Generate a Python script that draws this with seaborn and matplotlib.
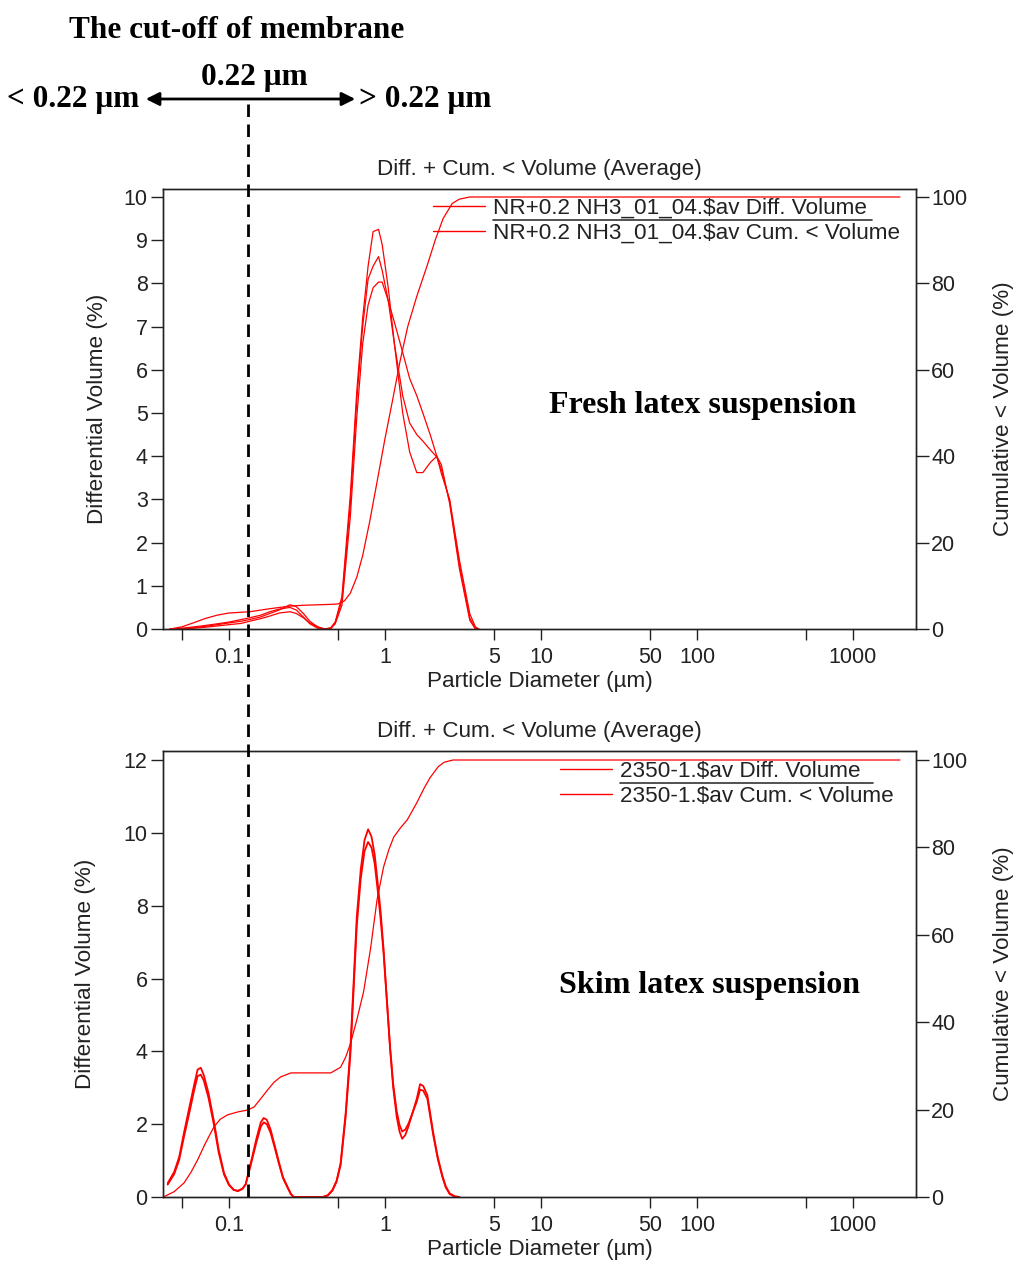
import matplotlib
matplotlib.use('Agg')
import matplotlib.pyplot as plt
import seaborn as sns
import numpy as np
from matplotlib.lines import Line2D
from matplotlib.patches import FancyArrowPatch

sns.set_style('ticks')
plt.rcParams['font.family'] = ['Liberation Sans', 'DejaVu Sans']

W, H = 1021, 1264

# ---- fresh latex (top panel) ----
top_d = [0.042, 0.05, 0.06, 0.07, 0.084, 0.1, 0.12, 0.136, 0.16, 0.183, 0.21, 0.246, 0.27,
         0.30, 0.33, 0.37, 0.41, 0.45, 0.48, 0.53, 0.60, 0.66, 0.72, 0.78, 0.84, 0.91, 0.96,
         1.05, 1.15, 1.30, 1.44, 1.60, 1.75, 1.95, 2.15, 2.3, 2.6, 3.0, 3.5, 3.8, 4.0]
top_diff_a = [0, 0.02, 0.05, 0.08, 0.12, 0.16, 0.22, 0.26, 0.32, 0.40, 0.46, 0.50, 0.44,
              0.28, 0.12, 0.02, 0.0, 0.02, 0.16, 0.75, 3.1, 5.5, 7.2, 8.4, 9.2, 9.25, 8.9,
              7.9, 6.6, 5.0, 4.1, 3.62, 3.62, 3.85, 4.0, 3.8, 2.9, 1.4, 0.2, 0.0, 0.0]
top_diff_b = [0, 0.0, 0.03, 0.06, 0.10, 0.14, 0.18, 0.22, 0.28, 0.36, 0.44, 0.56, 0.52,
              0.36, 0.18, 0.05, 0.0, 0.03, 0.15, 0.65, 2.9, 5.3, 7.0, 8.1, 8.4, 8.62, 8.3,
              7.6, 6.6, 5.4, 4.77, 4.5, 4.35, 4.15, 3.98, 3.7, 2.95, 1.5, 0.25, 0.02, 0.0]
top_diff_c = [0, 0.0, 0.02, 0.04, 0.07, 0.10, 0.13, 0.18, 0.24, 0.30, 0.37, 0.40, 0.36,
              0.26, 0.14, 0.05, 0.0, 0.01, 0.12, 0.55, 2.6, 4.9, 6.6, 7.5, 7.9, 8.03, 8.03,
              7.6, 7.1, 6.4, 5.8, 5.4, 5.0, 4.5, 4.0, 3.6, 3.0, 1.6, 0.35, 0.05, 0.0]
top_cum_d = [0.042, 0.05, 0.06, 0.07, 0.084, 0.1, 0.136, 0.183, 0.246, 0.30, 0.37, 0.45, 0.50,
             0.55, 0.60, 0.66, 0.72, 0.80, 0.90, 1.0, 1.12, 1.25, 1.40, 1.6, 1.86, 2.1, 2.36,
             2.7, 3.0, 3.5, 2000]
top_cum = [0, 0.5, 1.5, 2.4, 3.2, 3.7, 4.0, 4.7, 5.3, 5.5, 5.6, 5.7, 5.8,
           6.5, 8.3, 12, 17, 25, 35, 44, 53, 62, 70, 77, 84, 90, 95,
           98.5, 99.5, 100, 100]

# ---- skim latex (bottom panel) ----
bot_d = [0.0405, 0.0446, 0.048, 0.0515, 0.056, 0.060, 0.063, 0.066, 0.069, 0.074, 0.080,
         0.086, 0.093, 0.100, 0.107, 0.114, 0.122, 0.128, 0.138, 0.150, 0.160, 0.167, 0.175,
         0.185, 0.197, 0.208, 0.222, 0.238, 0.25, 0.26, 0.40, 0.43, 0.46, 0.49, 0.52, 0.56,
         0.60, 0.63, 0.66, 0.70, 0.74, 0.78, 0.82, 0.86, 0.90, 0.94, 0.98, 1.03, 1.08, 1.13,
         1.19, 1.24, 1.29, 1.35, 1.41, 1.50, 1.60, 1.68, 1.76, 1.87, 1.95, 2.04, 2.18, 2.33,
         2.45, 2.6, 2.8, 3.0]
bot_diff_hi = [0.38, 0.69, 1.1, 1.76, 2.5, 3.1, 3.5, 3.55, 3.35, 2.85, 2.1,
               1.3, 0.66, 0.35, 0.2, 0.16, 0.22, 0.35, 0.93, 1.6, 2.05, 2.17, 2.12,
               1.85, 1.4, 1.0, 0.55, 0.27, 0.08, 0.0, 0.0, 0.05, 0.19, 0.45, 0.93, 2.3,
               4.04, 5.9, 7.7, 9.0, 9.8, 10.1, 9.9, 9.4, 8.6, 7.8, 6.8, 5.4, 4.04, 3.0,
               2.2, 1.8, 1.6, 1.7, 1.92, 2.3, 2.7, 3.1, 3.05, 2.8, 2.3, 1.76, 1.1, 0.6,
               0.3, 0.1, 0.02, 0.0]
bot_diff_lo = [0.34, 0.63, 1.02, 1.65, 2.35, 2.95, 3.32, 3.36, 3.2, 2.72, 2.0,
               1.22, 0.62, 0.33, 0.2, 0.17, 0.23, 0.34, 0.88, 1.5, 1.93, 2.05, 2.0,
               1.76, 1.34, 0.95, 0.52, 0.25, 0.07, 0.0, 0.0, 0.04, 0.17, 0.42, 0.88, 2.2,
               3.9, 5.7, 7.45, 8.75, 9.5, 9.75, 9.6, 9.15, 8.4, 7.6, 6.7, 5.35, 4.1, 3.1,
               2.35, 1.98, 1.8, 1.85, 2.0, 2.3, 2.62, 2.95, 2.92, 2.7, 2.22, 1.7, 1.05, 0.56,
               0.27, 0.08, 0.01, 0.0]
bot_cum_d = [0.038, 0.0445, 0.0515, 0.057, 0.063, 0.070, 0.080, 0.088, 0.098, 0.115, 0.132,
             0.145, 0.16, 0.177, 0.195, 0.215, 0.25, 0.45, 0.52, 0.56, 0.60, 0.66, 0.73,
             0.81, 0.89, 0.98, 1.06, 1.14, 1.26, 1.39, 1.60, 1.78, 1.95, 2.2, 2.4, 2.73, 2000]
bot_cum = [0, 1.2, 3.2, 5.6, 8.5, 12, 16, 17.8, 18.8, 19.5, 19.9,
           20.6, 22.5, 24.5, 26.3, 27.5, 28.4, 28.4, 29.7, 32, 35, 40.5, 47,
           57, 68, 75.5, 79.5, 82.4, 84.5, 86.3, 90.2, 93.5, 96, 98.5, 99.5, 100, 100]

x_ticks = [0.05, 0.1, 0.5, 1, 5, 10, 50, 100, 500, 1000]
x_labels = ['', '0.1', '', '1', '5', '10', '50', '100', '', '1000']


def fx(px):
    return px / W


def fy(py):
    return 1 - py / H


fig = plt.figure(figsize=(W / 100, H / 100), dpi=100)

panels = [
    dict(top=189, bottom=629, diffs=[top_diff_a, top_diff_b, top_diff_c], d=top_d,
         cd=top_cum_d, cum=top_cum, ymax=10.185, yticks=range(0, 11), cmax=101.85,
         ylab_x=98, name='NR+0.2 NH3_01_04.$av', leg_x=433, leg_y=198, line_y=220,
         line_x=493, line_end=872, text='Fresh latex suspension', text_xy=(703, 406), lw=0.9),
    dict(top=751, bottom=1197, diffs=[bot_diff_hi, bot_diff_lo], d=bot_d,
         cd=bot_cum_d, cum=bot_cum, ymax=12.25, yticks=range(0, 13, 2), cmax=102.06,
         ylab_x=86, name='2350-1.$av', leg_x=560, leg_y=761, line_y=783,
         line_x=620, line_end=873, text='Skim latex suspension', text_xy=(709, 985), lw=1.3),
]

left, right = 163, 916
fs_lab = 16.2
fs_tick = 15.5
for p in panels:
    ax = fig.add_axes([fx(left), fy(p['bottom']), (right - left) / W, (p['bottom'] - p['top']) / H])
    ax2 = ax.twinx()
    for vals in p['diffs']:
        sns.lineplot(x=p['d'], y=vals, ax=ax, color='red', linewidth=p['lw'],
                     estimator=None, sort=False)
    sns.lineplot(x=p['cd'], y=p['cum'], ax=ax2, color='red', linewidth=0.9,
                 estimator=None, sort=False)
    ax.set_xscale('log')
    ax.set_xlim(0.0378, 2535)
    ax.set_ylim(0, p['ymax'])
    ax2.set_ylim(0, p['cmax'])
    ax.set_xticks(x_ticks)
    ax.set_xticklabels(x_labels)
    ax.xaxis.set_minor_locator(matplotlib.ticker.NullLocator())
    ax.set_yticks(list(p['yticks']))
    ax2.set_yticks([0, 20, 40, 60, 80, 100])
    ax.tick_params(axis='x', length=8, width=1, labelsize=fs_tick, pad=5, colors='#222')
    ax.tick_params(axis='y', length=9, width=1, labelsize=fs_tick, pad=2, colors='#222')
    ax2.tick_params(axis='y', length=9, width=1, labelsize=fs_tick, pad=2, colors='#222')
    for a in (ax, ax2):
        for s in a.spines.values():
            s.set_visible(True)
            s.set_color('#222')
            s.set_linewidth(1)
    h = p['bottom'] - p['top']
    ax.set_xlabel('Particle Diameter (\u00b5m)', fontsize=fs_lab, va='center', color='#222')
    ax.xaxis.set_label_coords(0.5, -53 / h)
    ax.set_ylabel('Differential Volume (%)', fontsize=fs_lab, va='center', color='#222')
    ax.yaxis.set_label_coords((p['ylab_x'] - left) / (right - left), 0.5)
    ax2.set_ylabel('Cumulative < Volume (%)', fontsize=fs_lab, va='center', color='#222')
    ax2.yaxis.set_label_coords((1004 - left) / (right - left), 0.5)
    ax.text(0.5, 1 + 20 / h, 'Diff. + Cum. < Volume (Average)', transform=ax.transAxes,
            ha='center', va='center', fontsize=fs_lab, color='#222')

    handles = [Line2D([], [], color='red', lw=1), Line2D([], [], color='red', lw=1)]
    labels = [p['name'] + ' Diff. Volume', p['name'] + ' Cum. < Volume']
    ax2.legend(handles, labels, loc='upper left', bbox_to_anchor=(fx(p['leg_x']), fy(p['leg_y'])),
               bbox_transform=fig.transFigure, frameon=False, fontsize=fs_lab, handlelength=2.3,
               handletextpad=0.36, labelspacing=0.18, borderpad=0, borderaxespad=0,
               labelcolor='#222')
    fig.add_artist(Line2D([fx(p['line_x']), fx(p['line_end'])],
                          [fy(p['line_y'])] * 2, color='#333', lw=1.2))
    fig.text(fx(p['text_xy'][0]), fy(p['text_xy'][1]), p['text'], ha='center', va='center',
             fontsize=23, fontweight='bold', family='Liberation Serif', color='black')

# cut-off annotation
serif = dict(fontsize=22.5, fontweight='bold', family='Liberation Serif', va='center',
             color='black')
fig.text(fx(237), fy(30), 'The cut-off of membrane', ha='center', **serif)
fig.text(fx(254), fy(77), '0.22 \u03bcm', ha='center', **serif)
fig.text(fx(73), fy(100), '< 0.22 \u03bcm', ha='center', **serif)
fig.text(fx(425), fy(100), '> 0.22 \u03bcm', ha='center', **serif)
fig.add_artist(FancyArrowPatch((fx(143), fy(99)), (fx(358), fy(99)), arrowstyle='<|-|>',
                               mutation_scale=20, lw=2, color='black',
                               transform=fig.transFigure))
fig.add_artist(Line2D([fx(248), fx(248)], [fy(104), fy(1197)], color='black', lw=2,
                      linestyle=(0, (4.5, 2.7))))

fig.savefig('out.png', dpi=100)
